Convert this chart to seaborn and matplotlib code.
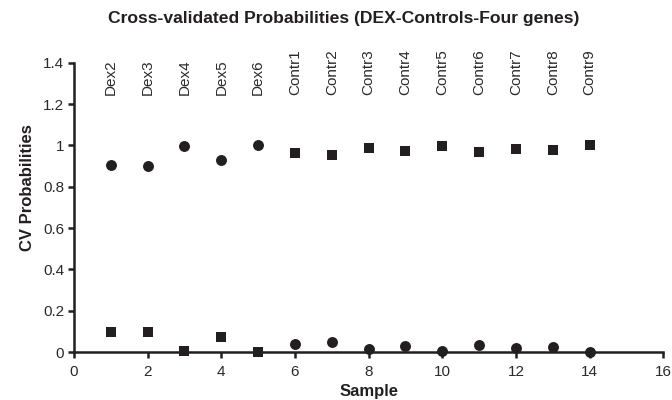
import matplotlib
matplotlib.use("Agg")
import matplotlib.pyplot as plt
import seaborn as sns
import pandas as pd

samples = list(range(1, 15))
names = ["Dex2", "Dex3", "Dex4", "Dex5", "Dex6", "Contr1", "Contr2", "Contr3",
         "Contr4", "Contr5", "Contr6", "Contr7", "Contr8", "Contr9"]
circle_vals = [0.903, 0.900, 0.995, 0.930, 1.000, 0.037, 0.050, 0.015,
               0.027, 0.003, 0.032, 0.017, 0.024, 0.000]
square_vals = [0.096, 0.098, 0.007, 0.072, 0.000, 0.962, 0.952, 0.988,
               0.975, 0.998, 0.969, 0.984, 0.977, 1.000]

sns.set_theme(style="ticks")
plt.rcParams["font.family"] = ["Liberation Sans", "DejaVu Sans"]

df_c = pd.DataFrame({"Sample": samples, "CV Probabilities": circle_vals})
df_s = pd.DataFrame({"Sample": samples, "CV Probabilities": square_vals})

fig = plt.figure(figsize=(6.72, 4.0), dpi=100)
ax = fig.add_axes([0.110, 0.120, 0.877, 0.723])
col = "#231f20"
txt = "#2a2a2a"
sns.scatterplot(data=df_c, x="Sample", y="CV Probabilities", marker="o",
                color=col, s=62, linewidth=0, legend=False, ax=ax, clip_on=False)
sns.scatterplot(data=df_s, x="Sample", y="CV Probabilities", marker="s",
                color=col, s=48, linewidth=0, legend=False, ax=ax, clip_on=False)

ax.set_xlim(0, 16)
ax.set_ylim(0, 1.4)
ax.set_xticks(range(0, 17, 2))
ax.set_yticks([0, 0.2, 0.4, 0.6, 0.8, 1.0, 1.2, 1.4])
ax.set_yticklabels(["0", "0.2", "0.4", "0.6", "0.8", "1", "1.2", "1.4"])
for s in ["top", "right"]:
    ax.spines[s].set_visible(False)
for s in ["left", "bottom"]:
    ax.spines[s].set_linewidth(1.8)
    ax.spines[s].set_color(col)
ax.tick_params(axis="both", direction="out", length=4, width=1.8, color=col,
               labelsize=11, labelcolor=txt)
ax.tick_params(axis="x", pad=5)
ax.tick_params(axis="y", pad=3)
ax.set_xlabel("Sample", fontsize=12, fontweight="bold", color=col, labelpad=4)
ax.set_ylabel("CV Probabilities", fontsize=12, fontweight="bold", color=col)
ax.yaxis.set_label_coords(-0.066, 0.57)

fig.text(0.511, 1 - 18 / 400, "Cross-validated Probabilities (DEX-Controls-Four genes)",
         ha="center", va="center", fontsize=12.6, fontweight="bold", color=col)

for xi, nm in zip(samples, names):
    ax.text(xi, 1.245, nm, rotation=90, ha="center", va="bottom",
            fontsize=11, color=txt)

fig.savefig("out.png", dpi=100)
